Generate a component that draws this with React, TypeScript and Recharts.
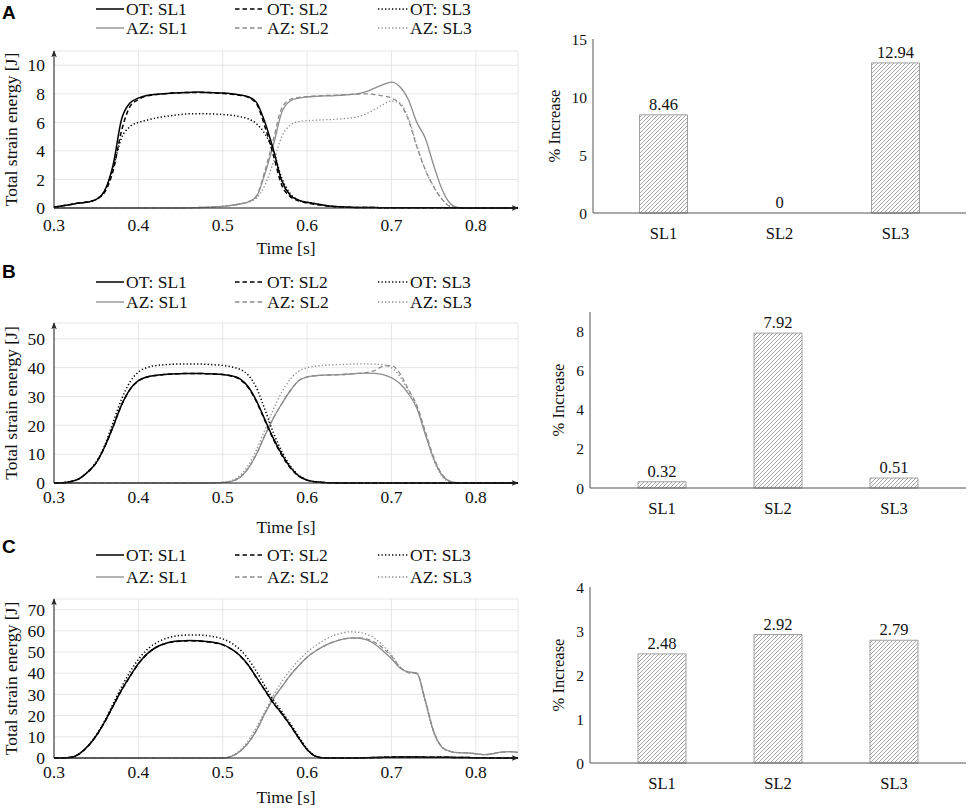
import React from "react";
import { LineChart, Line, XAxis, YAxis, CartesianGrid, ComposedChart, Bar, LabelList } from "recharts";

// time base shared by all three energy plots [s]
const TIME = [
  0.3, 0.31, 0.32, 0.33, 0.34, 0.35, 0.36, 0.37, 0.38, 0.39,
  0.4, 0.41, 0.42, 0.43, 0.44, 0.45, 0.46, 0.47, 0.48, 0.49,
  0.5, 0.51, 0.52, 0.53, 0.54, 0.55, 0.56, 0.57, 0.58, 0.59,
  0.6, 0.61, 0.62, 0.63, 0.64, 0.65, 0.66, 0.67, 0.68, 0.69,
  0.7, 0.71, 0.72, 0.73, 0.74, 0.75, 0.76, 0.77, 0.78, 0.79,
  0.8, 0.81, 0.82, 0.83, 0.84, 0.85,
];
const TIME_TICKS = [0.3, 0.4, 0.5, 0.6, 0.7, 0.8];

// panel A, total strain energy [J]
const A_OT_SL1 = [
  0.05, 0.15, 0.25, 0.35, 0.42, 0.6, 1.2, 3.0, 6.2, 7.35,
  7.7, 7.88, 7.96, 8.0, 8.05, 8.08, 8.1, 8.12, 8.1, 8.08,
  8.05, 8.0, 7.92, 7.8, 7.4, 6.0, 4.1, 1.9, 0.9, 0.55,
  0.4, 0.3, 0.2, 0.12, 0.08, 0.05, 0.04, 0.03, 0.03, 0.02,
  0.02, 0.02, 0.02, 0.02, 0.02, 0.01, 0.01, 0.01, 0.01, 0,
  0, 0, 0, 0, 0, 0,
];
const A_OT_SL2 = [
  0.05, 0.15, 0.25, 0.35, 0.42, 0.6, 1.1, 2.6, 5.4, 7.1,
  7.6, 7.85, 7.95, 8.0, 8.05, 8.08, 8.1, 8.1, 8.1, 8.07,
  8.03, 7.98, 7.9, 7.75, 7.3, 5.7, 3.7, 1.6, 0.8, 0.5,
  0.35, 0.25, 0.18, 0.1, 0.07, 0.05, 0.04, 0.03, 0.03, 0.02,
  0.02, 0.02, 0.02, 0.02, 0.02, 0.01, 0.01, 0.01, 0.01, 0,
  0, 0, 0, 0, 0, 0,
];
const A_OT_SL3 = [
  0.05, 0.15, 0.25, 0.35, 0.42, 0.6, 1.2, 2.8, 4.9, 5.7,
  6.0, 6.15, 6.3, 6.4, 6.48, 6.55, 6.6, 6.6, 6.6, 6.58,
  6.55, 6.5, 6.4, 6.25, 5.9, 5.2, 4.0, 2.1, 1.0, 0.55,
  0.4, 0.3, 0.2, 0.12, 0.08, 0.05, 0.04, 0.03, 0.03, 0.02,
  0.02, 0.02, 0.02, 0.02, 0.02, 0.01, 0.01, 0.01, 0.01, 0,
  0, 0, 0, 0, 0, 0,
];
const A_AZ_SL1 = [
  0, 0, 0, 0, 0, 0, 0, 0, 0, 0,
  0, 0, 0, 0, 0, 0, 0.01, 0.03, 0.05, 0.08,
  0.12, 0.18, 0.28, 0.42, 0.8, 2.4, 4.4, 6.7, 7.5, 7.7,
  7.78, 7.82, 7.85, 7.86, 7.9, 7.95, 8.02, 8.15, 8.4, 8.65,
  8.82, 8.5, 7.6, 6.0, 4.9, 3.0, 1.3, 0.3, 0.02, 0,
  0, 0, 0, 0, 0, 0,
];
const A_AZ_SL2 = [
  0, 0, 0, 0, 0, 0, 0, 0, 0, 0,
  0, 0, 0, 0, 0, 0, 0.01, 0.03, 0.05, 0.08,
  0.12, 0.18, 0.28, 0.42, 0.85, 2.6, 4.8, 7.0, 7.6, 7.75,
  7.8, 7.85, 7.88, 7.9, 7.92, 7.95, 7.98, 8.0, 7.95, 7.85,
  7.7, 7.3, 6.2, 4.3, 2.7, 1.5, 0.6, 0.1, 0, 0,
  0, 0, 0, 0, 0, 0,
];
const A_AZ_SL3 = [
  0, 0, 0, 0, 0, 0, 0, 0, 0, 0,
  0, 0, 0, 0, 0, 0, 0.01, 0.03, 0.05, 0.08,
  0.12, 0.18, 0.28, 0.4, 0.7, 1.6, 3.2, 5.0, 5.8, 6.05,
  6.12, 6.15, 6.18, 6.2, 6.25, 6.3, 6.4, 6.6, 6.9, 7.25,
  7.5, 7.35, 6.3, 4.4, 2.7, 1.5, 0.6, 0.1, 0, 0,
  0, 0, 0, 0, 0, 0,
];

// panel B
const B_OT_SL1 = [
  0, 0.1, 0.5, 1.5, 3.8, 7, 12.5, 19.5, 27, 32.5,
  35.5, 36.8, 37.3, 37.6, 37.8, 37.9, 38, 38, 37.9, 37.8,
  37.6, 37.2, 36.2, 33.5, 28.5, 22, 15.5, 10, 5.5, 2.5,
  1.0, 0.4, 0.15, 0.05, 0, 0, 0, 0, 0, 0,
  0, 0, 0, 0, 0, 0, 0, 0, 0, 0,
  0, 0, 0, 0, 0, 0,
];
const B_OT_SL2 = [
  0, 0.1, 0.5, 1.5, 3.8, 7, 12.5, 19.5, 27, 32.4,
  35.4, 36.7, 37.3, 37.6, 37.8, 37.9, 38, 38, 37.9, 37.8,
  37.6, 37.1, 36, 33.2, 28.2, 21.6, 15.2, 9.6, 5.3, 2.4,
  1.0, 0.4, 0.15, 0.05, 0, 0, 0, 0, 0, 0,
  0, 0, 0, 0, 0, 0, 0, 0, 0, 0,
  0, 0, 0, 0, 0, 0,
];
const B_OT_SL3 = [
  0, 0.1, 0.5, 1.5, 3.9, 7.3, 13, 21, 29, 35,
  38.5, 40, 40.7, 41, 41.2, 41.3, 41.3, 41.3, 41.2, 41.0,
  40.8, 40.3, 39.5, 37.5, 33, 25.5, 17.5, 11, 6, 2.7,
  1.1, 0.4, 0.15, 0.05, 0, 0, 0, 0, 0, 0,
  0, 0, 0, 0, 0, 0, 0, 0, 0, 0,
  0, 0, 0, 0, 0, 0,
];
const B_AZ_SL1 = [
  0, 0, 0, 0, 0, 0, 0, 0, 0, 0,
  0, 0, 0, 0, 0, 0, 0, 0, 0, 0.05,
  0.2, 0.6, 1.8, 5, 10, 16.5, 22.5, 27.5, 32, 35.5,
  36.8, 37.2, 37.4, 37.5, 37.6, 37.8, 38, 38.1, 38, 37.6,
  36.5, 34.5, 31, 26, 17, 8.5, 2.7, 0.5, 0.05, 0,
  0, 0, 0, 0, 0, 0,
];
const B_AZ_SL2 = [
  0, 0, 0, 0, 0, 0, 0, 0, 0, 0,
  0, 0, 0, 0, 0, 0, 0, 0, 0, 0.05,
  0.2, 0.6, 1.8, 5, 10, 16.5, 22.5, 27.5, 32, 35.5,
  36.8, 37.2, 37.4, 37.5, 37.6, 37.8, 38, 38.3, 39, 40.5,
  40.7, 38, 32.5, 27, 18, 9, 3, 0.6, 0.05, 0,
  0, 0, 0, 0, 0, 0,
];
const B_AZ_SL3 = [
  0, 0, 0, 0, 0, 0, 0, 0, 0, 0,
  0, 0, 0, 0, 0, 0, 0, 0, 0, 0.05,
  0.25, 0.8, 2.5, 6, 11.5, 18.5, 25.5, 31.5, 36, 38.8,
  40, 40.5, 40.8, 41, 41.1, 41.2, 41.3, 41.3, 41.2, 41,
  40, 37, 32, 26.5, 17.5, 8, 2.3, 0.3, 0, 0,
  0, 0, 0, 0, 0, 0,
];

// panel C
const C_OT_SL1 = [
  0, 0, 0.3, 2.0, 5.5, 10.5, 17, 24.5, 32, 38.5,
  44.5, 49, 52, 53.8, 54.8, 55.2, 55.4, 55.3, 55, 54.5,
  53.5, 51.5, 48.5, 44, 38, 32, 26, 21, 15.5, 9.5,
  4, 0.8, 0, 0, 0, 0, 0, 0.1, 0.2, 0.3,
  0.4, 0.5, 0.5, 0.5, 0.4, 0.4, 0.3, 0.3, 0.2, 0.2,
  0.1, 0.1, 0, 0, 0, 0,
];
const C_OT_SL2 = [
  0, 0, 0.3, 2.0, 5.5, 10.4, 16.9, 24.4, 31.9, 38.4,
  44.4, 48.9, 51.9, 53.7, 54.7, 55.1, 55.3, 55.2, 54.9, 54.4,
  53.4, 51.4, 48.4, 43.9, 37.9, 31.9, 25.9, 20.9, 15.4, 9.4,
  4, 0.8, 0, 0, 0, 0, 0, 0.1, 0.2, 0.3,
  0.4, 0.5, 0.5, 0.5, 0.4, 0.4, 0.3, 0.3, 0.2, 0.2,
  0.1, 0.1, 0, 0, 0, 0,
];
const C_OT_SL3 = [
  0, 0, 0.3, 2.0, 5.6, 10.8, 17.5, 25.5, 33.5, 40.5,
  46.5, 51, 54, 56, 57.2, 57.8, 58, 58, 57.8, 57.2,
  56.2, 54.3, 51.3, 46.8, 40.8, 34, 27.5, 22, 16.3, 10.2,
  4.4, 0.9, 0, 0, 0, 0, 0, 0.1, 0.2, 0.3,
  0.4, 0.5, 0.5, 0.5, 0.4, 0.4, 0.3, 0.3, 0.2, 0.2,
  0.1, 0.1, 0, 0, 0, 0,
];
const C_AZ_SL1 = [
  0, 0, 0, 0, 0, 0, 0, 0, 0, 0,
  0, 0, 0, 0, 0, 0, 0, 0, 0, 0,
  0, 0.8, 3, 7, 13, 21, 28, 33.5, 39, 43.5,
  47.5, 50.5, 52.8, 54.5, 55.8, 56.5, 56.6, 55.8, 53.8, 50.5,
  46.8, 42.5, 40.6, 40.2, 27, 12.5, 5, 3, 2.5, 2.4,
  2.0, 1.6, 2.0, 2.8, 3.0, 2.6,
];
const C_AZ_SL2 = [
  0, 0, 0, 0, 0, 0, 0, 0, 0, 0,
  0, 0, 0, 0, 0, 0, 0, 0, 0, 0,
  0, 0.8, 3, 7, 13, 21, 28, 33.5, 39, 43.5,
  47.5, 50.5, 52.8, 54.5, 55.8, 56.5, 56.7, 56.2, 54.6, 51.8,
  48, 43, 40.3, 39.8, 27.5, 12.8, 5.2, 3.1, 2.5, 2.4,
  2.0, 1.6, 2.0, 2.8, 3.0, 2.6,
];
const C_AZ_SL3 = [
  0, 0, 0, 0, 0, 0, 0, 0, 0, 0,
  0, 0, 0, 0, 0, 0, 0, 0, 0, 0,
  0, 0.9, 3.4, 8, 14.5, 22, 29.5, 36, 41.5, 46,
  50, 53, 55.5, 57.5, 58.8, 59.5, 59.3, 58.5, 56.5, 53,
  48.5, 43, 40.5, 39.8, 26.5, 12, 5, 3, 2.5, 2.4,
  2.0, 1.6, 2.0, 2.8, 3.0, 2.6,
];

const A_ENERGY_TICKS = [0, 2, 4, 6, 8, 10];
const B_ENERGY_TICKS = [0, 10, 20, 30, 40, 50];
const C_ENERGY_TICKS = [0, 10, 20, 30, 40, 50, 60, 70];

// % increase bars
const BAR_CATEGORIES = ["SL1", "SL2", "SL3"];
const A_INCREASE = [8.46, 0, 12.94];
const B_INCREASE = [0.32, 7.92, 0.51];
const C_INCREASE = [2.48, 2.92, 2.79];
const A_INCREASE_TICKS = [0, 5, 10, 15];
const B_INCREASE_TICKS = [0, 2, 4, 6, 8];
const C_INCREASE_TICKS = [0, 1, 2, 3, 4];

const SERIES = [
  { key: "otSl1", name: "OT: SL1", color: "#000", dash: undefined, width: 1.5 },
  { key: "otSl2", name: "OT: SL2", color: "#000", dash: "4.5 3", width: 1.5 },
  { key: "otSl3", name: "OT: SL3", color: "#000", dash: "1.3 2.2", width: 1.5 },
  { key: "azSl1", name: "AZ: SL1", color: "#8c8c8c", dash: undefined, width: 1.3 },
  { key: "azSl2", name: "AZ: SL2", color: "#8c8c8c", dash: "4.5 3", width: 1.3 },
  { key: "azSl3", name: "AZ: SL3", color: "#8c8c8c", dash: "1.3 2.2", width: 1.3 },
];

const PANELS = [
  {
    id: "A",
    energy: { otSl1: A_OT_SL1, otSl2: A_OT_SL2, otSl3: A_OT_SL3, azSl1: A_AZ_SL1, azSl2: A_AZ_SL2, azSl3: A_AZ_SL3 },
    energyMax: 11,
    energyTicks: A_ENERGY_TICKS,
    increase: A_INCREASE,
    increaseMax: 15,
    increaseTicks: A_INCREASE_TICKS,
  },
  {
    id: "B",
    energy: { otSl1: B_OT_SL1, otSl2: B_OT_SL2, otSl3: B_OT_SL3, azSl1: B_AZ_SL1, azSl2: B_AZ_SL2, azSl3: B_AZ_SL3 },
    energyMax: 55.5,
    energyTicks: B_ENERGY_TICKS,
    increase: B_INCREASE,
    increaseMax: 9,
    increaseTicks: B_INCREASE_TICKS,
  },
  {
    id: "C",
    energy: { otSl1: C_OT_SL1, otSl2: C_OT_SL2, otSl3: C_OT_SL3, azSl1: C_AZ_SL1, azSl2: C_AZ_SL2, azSl3: C_AZ_SL3 },
    energyMax: 75,
    energyTicks: C_ENERGY_TICKS,
    increase: C_INCREASE,
    increaseMax: 4,
    increaseTicks: C_INCREASE_TICKS,
  },
];

// page positions (px)
const LAYOUT: Record<string, any> = {
  A: { letterY: 13, keyRows: [9, 28], line: { top: 51, bottom: 208, tickGap: 11, titleGap: 40 }, bar: { left: 593, top: 39, bottom: 213, titleX: 14 } },
  B: { letterY: 272, keyRows: [282, 302], line: { top: 323, bottom: 483, tickGap: 7.5, titleGap: 44 }, bar: { left: 590, top: 312, bottom: 488, titleX: 18 } },
  C: { letterY: 547, keyRows: [555, 577], line: { top: 599, bottom: 758, tickGap: 7.5, titleGap: 39 }, bar: { left: 590, top: 587, bottom: 763, titleX: 18 } },
};
const KEY_COLUMNS = [
  { x1: 96, x2: 124, text: 126 },
  { x1: 235, x2: 264, text: 267 },
  { x1: 378, x2: 408, text: 410 },
];

const SERIF = "'Liberation Serif', 'Times New Roman', serif";
const SANS = "'Liberation Sans', Arial, sans-serif";
const INK = "#111";
const LINE_FONT = 17.5;
const BAR_FONT = 16.5;
// shifts a text so its digits/caps sit centred on y
const MID = "0.34em";

function PageOverlay() {
  // panel letters and the series key above each energy plot
  return (
    <svg style={{ position: "absolute", left: 0, top: 0 }} width={540} height={808}>
      {PANELS.map((panel) => {
        const lay = LAYOUT[panel.id];
        return (
          <g key={panel.id}>
            <text x={2} y={lay.letterY} dy={MID} fontFamily={SANS} fontWeight="bold" fontSize={19} fill="#000">
              {panel.id}
            </text>
            {SERIES.map((s, i) => {
              const col = KEY_COLUMNS[i % 3];
              const y = lay.keyRows[Math.floor(i / 3)];
              return (
                <g key={s.key}>
                  <line x1={col.x1} x2={col.x2} y1={y} y2={y} stroke={s.color} strokeWidth={s.width} strokeDasharray={s.dash} />
                  <text x={col.text} y={y} dy={MID} fontFamily={SERIF} fontSize={LINE_FONT} fill={INK}>
                    {s.name}
                  </text>
                </g>
              );
            })}
          </g>
        );
      })}
    </svg>
  );
}

function EnergyChart({ panel, box }: { panel: any; box: any }) {
  const data = TIME.map((t, i) => {
    const row: Record<string, number> = { t };
    SERIES.forEach((s) => {
      row[s.key] = panel.energy[s.key][i];
    });
    return row;
  });
  const padTop = 12;
  const axisH = 56;
  const height = box.bottom - box.top + padTop + axisH;
  const arrowId = `arrow-${panel.id}`;
  const tickStyle = { fill: INK, fontSize: LINE_FONT, fontFamily: SERIF };

  return (
    <div style={{ position: "absolute", left: 0, top: box.top - padTop }}>
      <LineChart width={540} height={height} data={data} margin={{ top: padTop, right: 22, bottom: 0, left: 0 }}>
        <defs>
          <marker id={arrowId} viewBox="0 0 10 10" refX="9" refY="5" markerWidth="7" markerHeight="7" markerUnits="userSpaceOnUse" orient="auto-start-reverse">
            <path d="M0,1 L10,5 L0,9 L2.5,5 z" fill="#222" />
          </marker>
        </defs>
        <CartesianGrid stroke="#e0e0e0" strokeWidth={0.8} />
        <XAxis
          type="number"
          dataKey="t"
          domain={[0.3, 0.85]}
          ticks={TIME_TICKS}
          interval={0}
          tickFormatter={(v: number) => v.toFixed(1)}
          height={axisH}
          tickLine={false}
          tickSize={0}
          tickMargin={box.tickGap}
          tick={tickStyle}
          axisLine={{ stroke: "#222", markerEnd: `url(#${arrowId})` }}
          label={(p: any) => {
            const { x, y, width } = p.viewBox;
            return (
              <text x={x + width / 2} y={y + box.titleGap} dy={MID} textAnchor="middle" fontFamily={SERIF} fontSize={LINE_FONT} fill={INK}>
                Time [s]
              </text>
            );
          }}
        />
        <YAxis
          type="number"
          domain={[0, panel.energyMax]}
          ticks={panel.energyTicks}
          interval={0}
          width={54}
          tickLine={false}
          tickSize={0}
          tickMargin={9}
          tick={tickStyle}
          axisLine={{ stroke: "#222", markerStart: `url(#${arrowId})` }}
          label={(p: any) => {
            const { x, y, height: h } = p.viewBox;
            const cx = x + 11;
            const cy = y + h / 2;
            return (
              <text x={cx} y={cy} dy={MID} transform={`rotate(-90, ${cx}, ${cy})`} textAnchor="middle" fontFamily={SERIF} fontSize={LINE_FONT} fill={INK}>
                Total strain energy [J]
              </text>
            );
          }}
        />
        {[...SERIES].reverse().map((s) => (
          <Line
            key={s.key}
            type="monotone"
            dataKey={s.key}
            stroke={s.color}
            strokeWidth={s.width}
            strokeDasharray={s.dash}
            dot={false}
            activeDot={false}
            isAnimationActive={false}
          />
        ))}
      </LineChart>
    </div>
  );
}

function IncreaseChart({ panel, box }: { panel: any; box: any }) {
  const data = BAR_CATEGORIES.map((name, i) => ({ name, value: panel.increase[i] }));
  const padTop = 10;
  const axisH = 44;
  const width = 429;
  const marginRight = 3;
  const axisW = box.left - 540;
  const plotW = width - marginRight - axisW;
  const side = (plotW - 3 * 116) / 2;
  const height = box.bottom - box.top + padTop + axisH;
  const hatchId = `hatch-${panel.id}`;
  const frame = { stroke: "#555", strokeWidth: 1 };

  return (
    <div style={{ position: "absolute", left: 540, top: box.top - padTop }}>
      <ComposedChart width={width} height={height} data={data} margin={{ top: padTop, right: marginRight, bottom: 0, left: 0 }}>
        <defs>
          <pattern id={hatchId} patternUnits="userSpaceOnUse" width={4} height={4}>
            <rect width={4} height={4} fill="#fff" />
            <path d="M-1,1 l2,-2 M0,4 l4,-4 M3,5 l2,-2" stroke="#8f8f8f" strokeWidth={0.8} />
          </pattern>
        </defs>
        <XAxis
          dataKey="name"
          padding={{ left: side, right: side }}
          interval={0}
          height={axisH}
          tickLine={false}
          tickSize={0}
          tickMargin={14}
          tick={{ fill: INK, fontSize: BAR_FONT, fontFamily: SERIF }}
          axisLine={frame}
        />
        <XAxis xAxisId="top" orientation="top" dataKey="name" padding={{ left: side, right: side }} height={0} tick={false} tickLine={false} axisLine={frame} />
        <YAxis
          type="number"
          domain={[0, panel.increaseMax]}
          ticks={panel.increaseTicks}
          interval={0}
          width={axisW}
          tickLine={false}
          tickSize={0}
          tickMargin={6}
          tick={{ fill: INK, fontSize: 15.5, fontFamily: SERIF }}
          axisLine={frame}
          label={(p: any) => {
            const { x, y, height: h } = p.viewBox;
            const cx = x + box.titleX;
            const cy = y + h / 2;
            return (
              <text x={cx} y={cy} dy={MID} transform={`rotate(-90, ${cx}, ${cy})`} textAnchor="middle" fontFamily={SERIF} fontSize={BAR_FONT} fill={INK}>
                % Increase
              </text>
            );
          }}
        />
        <YAxis
          yAxisId="right"
          orientation="right"
          type="number"
          domain={[0, panel.increaseMax]}
          ticks={panel.increaseTicks}
          interval={0}
          width={0}
          mirror
          tick={false}
          tickSize={4}
          tickLine={{ stroke: "#aaa" }}
          axisLine={frame}
        />
        <Bar dataKey="value" barSize={48} fill={`url(#${hatchId})`} stroke="#a0a0a0" strokeWidth={1} isAnimationActive={false} />
        {/* invisible carrier for the value labels, so a zero bar still gets its "0" */}
        <Line dataKey="value" stroke="none" dot={false} activeDot={false} isAnimationActive={false}>
          <LabelList
            dataKey="value"
            content={(p: any) => (
              <text x={p.x} y={p.y - 5} textAnchor="middle" fontFamily={SERIF} fontSize={BAR_FONT} fill={INK}>
                {String(p.value)}
              </text>
            )}
          />
        </Line>
      </ComposedChart>
    </div>
  );
}

export default function App() {
  return (
    <div style={{ position: "absolute", left: 0, top: 0, width: 969, height: 808, background: "#fff", fontFamily: SERIF, overflow: "hidden" }}>
      {PANELS.map((panel) => (
        <React.Fragment key={panel.id}>
          <EnergyChart panel={panel} box={LAYOUT[panel.id].line} />
          <IncreaseChart panel={panel} box={LAYOUT[panel.id].bar} />
        </React.Fragment>
      ))}
      <PageOverlay />
    </div>
  );
}
